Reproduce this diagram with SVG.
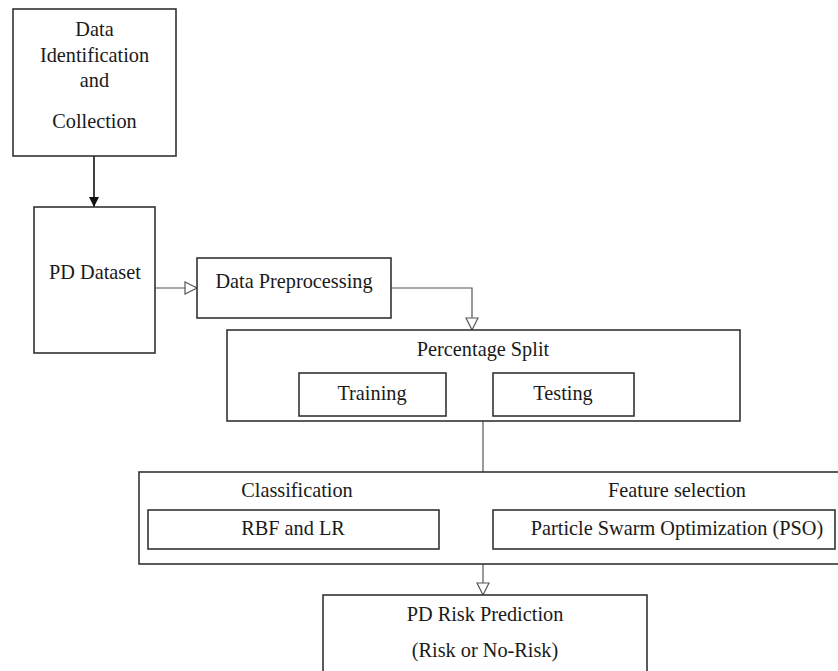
<svg xmlns="http://www.w3.org/2000/svg" width="838" height="671" viewBox="0 0 838 671">
<style>
.box{fill:#fff;stroke:#333;stroke-width:1.6}
.t{font-family:"Liberation Serif","Times New Roman",serif;font-size:20.3px;fill:#1a1a1a;text-anchor:middle}
.c{fill:none;stroke:#555;stroke-width:1.2}
</style>
<defs>
<marker id="solid" viewBox="0 0 10 10" refX="10" refY="5" markerWidth="10" markerHeight="11" markerUnits="userSpaceOnUse" orient="auto" overflow="visible">
<path d="M0,0 L10,5 L0,10 Z" fill="#111"/>
</marker>
<marker id="hollow" viewBox="0 0 12 12" refX="12" refY="6" markerWidth="12" markerHeight="12" markerUnits="userSpaceOnUse" orient="auto" overflow="visible">
<path d="M0,0 L12,6 L0,12 Z" fill="#fff" stroke="#555" stroke-width="1.2"/>
</marker>
</defs>
<rect width="838" height="671" fill="#fff"/>
<g id="connectors">
<line x1="94" y1="156" x2="94" y2="207" style="stroke:#111;stroke-width:1.6" marker-end="url(#solid)"/>
<line class="c" x1="155" y1="288" x2="197" y2="288" marker-end="url(#hollow)"/>
<polyline class="c" points="391,288 472,288 472,330" marker-end="url(#hollow)"/>
<line class="c" x1="446" y1="394" x2="493" y2="394" stroke-dasharray="2,3"/>
<line class="c" x1="483" y1="421" x2="483" y2="472"/>
<line class="c" x1="483" y1="564" x2="483" y2="595" marker-end="url(#hollow)"/>
</g>
<g id="data-identification">
<rect class="box" x="13" y="9" width="163" height="147"/>
<text class="t" x="94.5" y="36">Data</text>
<text class="t" x="94.5" y="62">Identification</text>
<text class="t" x="94.5" y="87">and</text>
<text class="t" x="94.5" y="128">Collection</text>
</g>
<g id="pd-dataset">
<rect class="box" x="34" y="207" width="121" height="146"/>
<text class="t" x="95" y="279">PD Dataset</text>
</g>
<g id="data-preprocessing">
<rect class="box" x="197" y="258" width="194" height="60"/>
<text class="t" x="294" y="288">Data Preprocessing</text>
</g>
<g id="percentage-split">
<rect class="box" x="227" y="330" width="513" height="91"/>
<text class="t" x="483" y="356">Percentage Split</text>
</g>
<g id="training">
<rect class="box" x="299" y="373" width="147" height="43"/>
<text class="t" x="372" y="400">Training</text>
</g>
<g id="testing">
<rect class="box" x="493" y="373" width="141" height="43"/>
<text class="t" x="563" y="400">Testing</text>
</g>
<g id="classification-feature-selection">
<rect class="box" x="139" y="472" width="702" height="92"/>
<text class="t" x="297" y="497">Classification</text>
<text class="t" x="677" y="497">Feature selection</text>
</g>
<g id="rbf-lr">
<rect class="box" x="148" y="510" width="291" height="39"/>
<text class="t" x="293" y="535">RBF and LR</text>
</g>
<g id="pso">
<rect class="box" x="493" y="510" width="342" height="39"/>
<text class="t" x="677" y="535">Particle Swarm Optimization (PSO)</text>
</g>
<g id="pd-risk-prediction">
<rect class="box" x="323" y="595" width="324" height="90"/>
<text class="t" x="485" y="621">PD Risk Prediction</text>
<text class="t" x="485" y="657">(Risk or No-Risk)</text>
</g>
</svg>
